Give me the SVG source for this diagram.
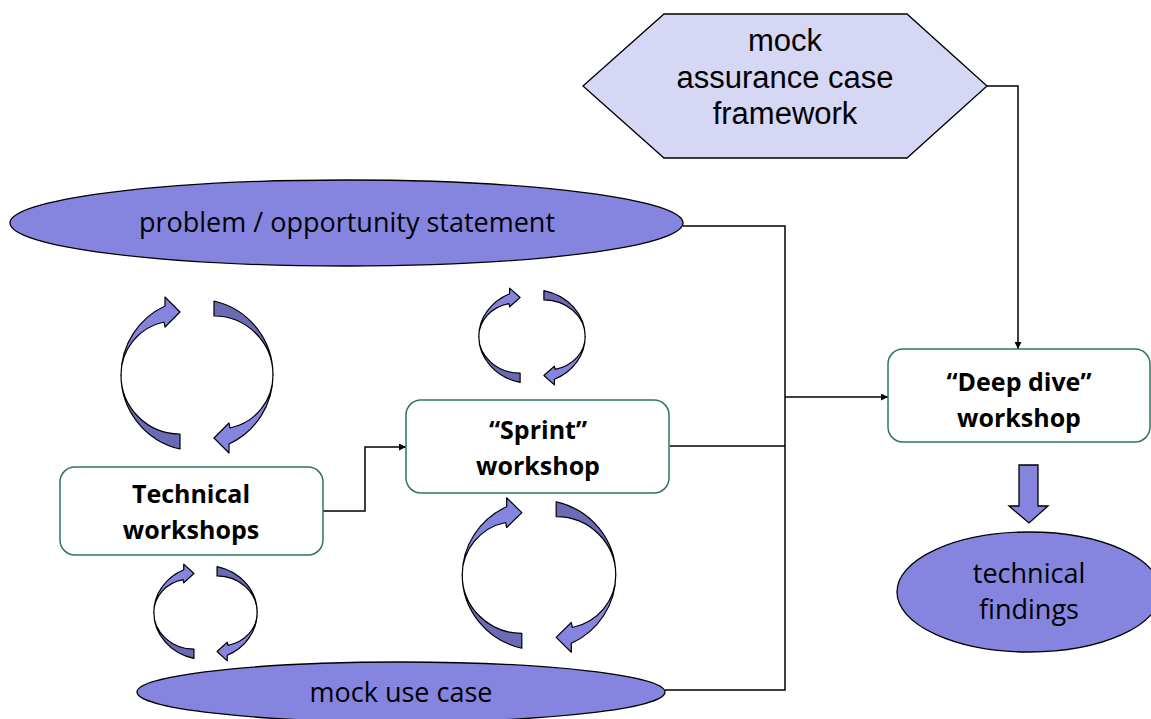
<svg xmlns="http://www.w3.org/2000/svg" width="1151" height="719" viewBox="0 0 1151 719">
<defs>
<style>
.box{fill:#fff;stroke:#2e7560;stroke-width:1.5}
.ell{fill:#8585e0;stroke:#000;stroke-width:1.3}
.hex{fill:#d6d6f5;stroke:#000;stroke-width:1.3}
.con{fill:none;stroke:#000;stroke-width:1.5}
.lt{fill:#8585e0;stroke:#000;stroke-width:1.2;vector-effect:non-scaling-stroke;stroke-linejoin:round}
.dk{fill:#6a6ab5;stroke:#000;stroke-width:1.2;vector-effect:non-scaling-stroke;stroke-linejoin:round}
.bt{font-family:"Open Sans","Liberation Sans",sans-serif;font-weight:bold;font-size:25px;fill:#000;text-anchor:middle}
.rt{font-family:"Open Sans","Liberation Sans",sans-serif;font-size:27px;fill:#000;text-anchor:middle}
.ht{font-family:"Liberation Sans",Arial,sans-serif;font-size:31px;fill:#000;text-anchor:middle}
</style>
<marker id="ah" viewBox="0 0 10 10" refX="10" refY="5" markerWidth="7" markerHeight="7" orient="auto" markerUnits="userSpaceOnUse">
<path d="M0,0 L10,5 L0,10 Z" fill="#000"/>
</marker>
<g id="half">
<path class="dk" d="M-17,74 A76,76 0 0 1 -76,0 A59,59 0 0 0 -17,59 Z"/>
<path class="lt" d="M-76,0 A76,76 0 0 1 -32,-69 L-32,-78 L-17,-63 L-32,-48 L-33,-53 A54,54 0 0 0 -76,0 Z"/>
</g>
<g id="cyc">
<use href="#half"/>
<use href="#half" transform="rotate(180)"/>
</g>
</defs>

<g id="connectors">
<path class="con" d="M987,86 H1018 V349" marker-end="url(#ah)"/>
<path class="con" d="M683,226 H785 V690 H665"/>
<path class="con" d="M670,446 H785"/>
<path class="con" d="M785,397 H888" marker-end="url(#ah)"/>
<path class="con" d="M323,511 H365 V447 H406" marker-end="url(#ah)"/>
</g>

<g id="cycles">
<use href="#cyc" transform="translate(197,375)"/>
<use href="#cyc" transform="translate(532,336.5) scale(0.70,0.62)"/>
<use href="#cyc" transform="translate(539,575) scale(1.01,0.99)"/>
<use href="#cyc" transform="translate(205.5,612.5) scale(0.68,0.62)"/>
</g>

<g id="hexagon">
<polygon class="hex" points="583,86 664,14 907,14 987,86 907,158 664,158"/>
<text class="ht" x="785" y="51">mock</text>
<text class="ht" x="785" y="88">assurance case</text>
<text class="ht" x="785" y="124">framework</text>
</g>

<g id="problem">
<ellipse class="ell" cx="346.5" cy="223" rx="336.5" ry="43"/>
<text class="rt" x="347" y="232">problem / opportunity statement</text>
</g>

<g id="technical">
<rect class="box" x="60" y="467" width="263" height="88" rx="15"/>
<text class="bt" x="191" y="503">Technical</text>
<text class="bt" x="191" y="539">workshops</text>
</g>

<g id="sprint">
<rect class="box" x="406" y="400" width="263" height="93" rx="15"/>
<text class="bt" x="538" y="439">“Sprint”</text>
<text class="bt" x="538" y="475">workshop</text>
</g>

<g id="deepdive">
<rect class="box" x="888" y="349" width="262" height="93" rx="15"/>
<text class="bt" x="1019" y="391">“Deep dive”</text>
<text class="bt" x="1019" y="427">workshop</text>
</g>

<g id="blockarrow">
<path class="ell" d="M1019,465 H1038 V506 H1048 L1029,523 L1009,506 H1019 Z"/>
</g>

<g id="findings">
<ellipse class="ell" cx="1029" cy="592" rx="132" ry="60"/>
<text class="rt" x="1029" y="583">technical</text>
<text class="rt" x="1029" y="619">findings</text>
</g>

<g id="mockuse">
<ellipse class="ell" cx="401" cy="692" rx="264" ry="30"/>
<text class="rt" x="401" y="702">mock use case</text>
</g>
</svg>
